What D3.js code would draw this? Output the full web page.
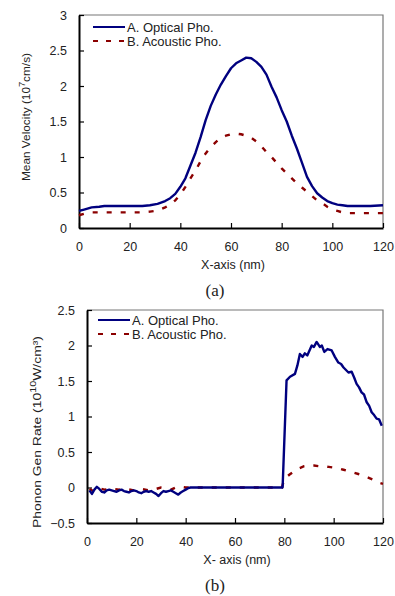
<!DOCTYPE html>
<html>
<head>
<meta charset="utf-8">
<script src="https://cdn.jsdelivr.net/npm/d3@7"></script>
<style>
body { margin: 0; background: #fff; }
svg text { font-family: "Liberation Sans", Arial, sans-serif; fill: #222; }
</style>
</head>
<body>
<div id="chart"></div>
<script>
// panel (a) - mean velocity
var aOptX = [0,2,5,8,10,15,20,25,28,31,34,36,38,40,42,44,46,48,50,52,54,56,58,60,62,64,66,68,70,72,74,76,78,80,82,84,86,88,90,92,94,96,98,100,102,104,106,108,110,115,120];
var aOptY = [0.24,0.26,0.29,0.30,0.31,0.31,0.31,0.31,0.32,0.34,0.38,0.42,0.48,0.58,0.70,0.88,1.06,1.28,1.52,1.72,1.88,2.02,2.14,2.25,2.32,2.36,2.40,2.39,2.34,2.27,2.16,1.99,1.84,1.66,1.50,1.30,1.12,0.92,0.72,0.59,0.49,0.43,0.38,0.35,0.33,0.32,0.31,0.31,0.31,0.31,0.32];
var aAcX = [0,2,5,10,15,20,25,28,30,32,34,36,38,40,42,44,46,48,50,52,54,56,58,60,62,64,66,68,70,72,74,76,78,80,82,84,86,88,90,92,94,96,98,100,102,104,106,110,115,120];
var aAcY = [0.18,0.20,0.22,0.22,0.22,0.22,0.22,0.23,0.24,0.26,0.29,0.33,0.39,0.47,0.58,0.70,0.81,0.94,1.05,1.14,1.21,1.27,1.30,1.32,1.33,1.32,1.30,1.27,1.22,1.15,1.07,1.00,0.92,0.84,0.77,0.70,0.63,0.57,0.51,0.45,0.39,0.35,0.30,0.26,0.24,0.22,0.21,0.21,0.21,0.21];

// panel (b) - phonon generation rate
var bOptX = [1,2,3,4,5,6,7,8,9,10,11,12,13,14,15,16,17,18,19,20,21,22,23,24,25,26,27,28,29,30,31,32,33,34,35,36,37,38,39,40,41,42,50,60,70,79.3,80.9,82.3,84.3,85.3,86.3,87.4,88.3,89.3,91.1,92,93.1,94.4,95.2,96.2,97.5,99.2,100.5,101.9,103,104,106,107.3,108.3,109.3,110.3,111.3,112.3,113.4,114.4,115.4,116.4,117.4,118.4,119.5];
var bOptY = [-0.04,-0.09,-0.03,0.01,-0.02,-0.06,-0.07,-0.04,-0.03,-0.04,-0.05,-0.06,-0.04,-0.03,-0.05,-0.06,-0.07,-0.05,-0.04,-0.05,-0.07,-0.08,-0.06,-0.05,-0.06,-0.05,-0.07,-0.09,-0.12,-0.08,-0.05,-0.06,-0.05,-0.04,-0.06,-0.08,-0.10,-0.07,-0.05,-0.03,-0.01,0,0,0,0,0,1.51,1.56,1.60,1.72,1.88,1.84,1.89,1.86,2.00,1.98,2.05,1.98,2.00,1.91,1.95,1.93,1.84,1.76,1.74,1.69,1.62,1.63,1.55,1.46,1.41,1.34,1.31,1.20,1.15,1.06,1.02,0.97,0.96,0.87];
var bAcX = [1,3,5,7,10,13,16,19,22,25,28,30,32,34,36,38,40,50,60,70,79,80,82,84,86,88,90,92,94,96,98,100,102,104,106,108,110,112,114,116,118,120];
var bAcY = [-0.02,-0.06,-0.01,-0.03,-0.02,-0.03,-0.02,-0.04,-0.02,-0.04,-0.02,0.00,-0.01,-0.03,0.00,0.01,0,0,0,0,0,0.12,0.18,0.23,0.27,0.30,0.31,0.31,0.30,0.30,0.29,0.28,0.27,0.25,0.23,0.21,0.19,0.17,0.14,0.11,0.07,0.05];

var xTicks = [0,20,40,60,80,100,120];
var aYTicks = [0,0.5,1,1.5,2,2.5,3];
var bYTicks = [-0.5,0,0.5,1,1.5,2,2.5];
var legendNames = ["A. Optical Pho.", "B. Acoustic Pho."];

var optColor = "#00007f";
var acColor = "#8b0000";

var svg = d3.select("#chart").append("svg")
    .attr("width", 395)
    .attr("height", 596);

function zip(xs, ys) {
    return xs.map(function(x, i) { return [x, ys[i]]; });
}

function drawPanel(p) {
    var x = d3.scaleLinear().domain([0, 120]).range([p.left, p.right]);
    var y = d3.scaleLinear().domain(p.yDomain).range([p.bottom, p.top]);

    // top / right frame
    svg.append("path")
        .attr("d", `M${p.left},${p.top}H${p.right}V${p.bottom}`)
        .attr("fill", "none")
        .attr("stroke", "#777")
        .attr("stroke-width", 1.2);

    // axes, ticks point inward
    var xAxis = svg.append("g")
        .attr("transform", `translate(0,${p.bottom})`)
        .call(d3.axisBottom(x).tickValues(xTicks).tickSize(-5).tickPadding(14).tickSizeOuter(0));
    var yAxis = svg.append("g")
        .attr("transform", `translate(${p.left},0)`)
        .call(d3.axisLeft(y).tickValues(p.yTicks).tickSize(-5).tickPadding(p.yPad).tickFormat(d3.format("")).tickSizeOuter(0));

    [xAxis, yAxis].forEach(function(g) {
        g.select(".domain").attr("stroke", "#000").attr("stroke-width", 2);
        g.selectAll(".tick line").attr("stroke", "#000").attr("stroke-width", 1.2);
        g.selectAll(".tick text").attr("font-size", 12.5).attr("fill", "#222")
            .style("font-family", "'Liberation Sans', Arial, sans-serif");
    });

    var line = d3.line().x(d => x(d[0])).y(d => y(d[1]));

    svg.append("path")
        .datum(zip(p.acX, p.acY))
        .attr("d", line)
        .attr("fill", "none")
        .attr("stroke", acColor)
        .attr("stroke-width", 2.4)
        .attr("stroke-dasharray", "5,9");

    svg.append("path")
        .datum(zip(p.optX, p.optY))
        .attr("d", line)
        .attr("fill", "none")
        .attr("stroke", optColor)
        .attr("stroke-width", 2.4)
        .attr("stroke-linejoin", "round");

    // legend
    var lg = svg.append("g").attr("transform", `translate(${p.left + p.legDx},${p.top + p.legDy})`);
    legendNames.forEach(function(name, i) {
        lg.append("line")
            .attr("x1", 0).attr("x2", 32)
            .attr("y1", i * 14).attr("y2", i * 14)
            .attr("stroke", i == 0 ? optColor : acColor)
            .attr("stroke-width", 2)
            .attr("stroke-dasharray", i == 0 ? null : "5,8");
        lg.append("text")
            .attr("x", 34).attr("y", i * 14 + 4.5)
            .attr("font-size", 13)
            .text(name);
    });

    // x title
    svg.append("text")
        .attr("x", (p.left + p.right) / 2 + 2)
        .attr("y", p.bottom + 41)
        .attr("text-anchor", "middle")
        .attr("font-size", 12.5)
        .text(p.xTitle);

    // y title
    var yt = svg.append("text")
        .attr("transform", `translate(${p.yTitleX},${p.yTitleY}) rotate(-90)`)
        .attr("text-anchor", "middle")
        .attr("font-size", 11.5)
        .attr("textLength", p.yTitleLen)
        .attr("lengthAdjust", "spacingAndGlyphs");
    yt.append("tspan").text(p.yTitle[0]);
    yt.append("tspan").attr("dy", -5).attr("font-size", 9).text(p.yTitle[1]);
    yt.append("tspan").attr("dy", 5).text(p.yTitle[2]);

    // panel caption
    svg.append("text")
        .attr("x", 215)
        .attr("y", p.bottom + 68)
        .attr("text-anchor", "middle")
        .attr("font-size", 17)
        .style("font-family", "'Liberation Serif', 'Times New Roman', serif")
        .text(p.caption);
}

drawPanel({
    left: 79, right: 383, top: 15, bottom: 228,
    yDomain: [0, 3], yTicks: aYTicks, yPad: 12,
    optX: aOptX, optY: aOptY, acX: aAcX, acY: aAcY,
    legDx: 14, legDy: 12,
    xTitle: "X-axis (nm)",
    yTitle: ["Mean Velocity (10", "7", "cm/s)"], yTitleX: 30, yTitleY: 117, yTitleLen: 128,
    caption: "(a)"
});

drawPanel({
    left: 87, right: 383, top: 310, bottom: 523,
    yDomain: [-0.5, 2.5], yTicks: bYTicks, yPad: 12,
    optX: bOptX, optY: bOptY, acX: bAcX, acY: bAcY,
    legDx: 11, legDy: 10,
    xTitle: "X- axis (nm)",
    yTitle: ["Phonon Gen Rate (10", "10", "W/cm\u00b3)"], yTitleX: 41, yTitleY: 432, yTitleLen: 192,
    caption: "(b)"
});
</script>
</body>
</html>
